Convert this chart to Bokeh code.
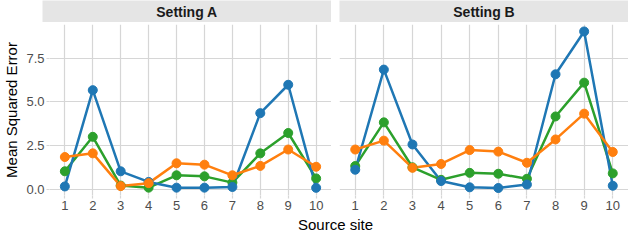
from bokeh.plotting import figure
from bokeh.layouts import column, row
from bokeh.models import Range1d, FixedTicker, Label, NumeralTickFormatter
from bokeh.embed import file_html
from bokeh.resources import INLINE

# ---- data ----
sites = [1, 2, 3, 4, 5, 6, 7, 8, 9, 10]
panels = ["Setting A", "Setting B"]

a_blue = [0.15, 5.68, 1.02, 0.41, 0.08, 0.08, 0.12, 4.36, 5.99, 0.07]
a_orange = [1.84, 2.05, 0.17, 0.34, 1.48, 1.40, 0.79, 1.33, 2.27, 1.28]
a_green = [1.02, 3.00, 0.20, 0.08, 0.79, 0.73, 0.37, 2.05, 3.22, 0.61]

b_blue = [1.11, 6.86, 2.56, 0.46, 0.10, 0.06, 0.26, 6.59, 9.05, 0.19]
b_orange = [2.27, 2.78, 1.22, 1.44, 2.24, 2.15, 1.51, 2.85, 4.33, 2.13]
b_green = [1.32, 3.83, 1.25, 0.53, 0.93, 0.88, 0.59, 4.17, 6.11, 0.90]

y_ticks = [0, 2.5, 5, 7.5]

# ---- style ----
FONT = "Liberation Sans"
GRID = "#d6d6d6"
STRIP = "#e5e5e5"
BLUE, ORANGE, GREEN = "#1f77b4", "#ff7f0e", "#2ca02c"

LEFT = 42
PW = 289
GAP = 8
STRIP_H = 22
TOP = 2
FRAME_H = 171
BOT = 21
TITLE_H = 16


def make_strip(text, border_left):
    s = figure(width=border_left + PW, height=STRIP_H,
               x_range=Range1d(0, 1), y_range=Range1d(0, 1),
               output_backend="svg", toolbar_location=None,
               x_axis_location=None, y_axis_location=None,
               min_border_left=border_left, min_border_right=0,
               min_border_top=0, min_border_bottom=0,
               background_fill_color=STRIP, border_fill_color="white")
    s.outline_line_color = None
    s.xgrid.visible = False
    s.ygrid.visible = False
    s.add_layout(Label(x=0.5, y=0.5, text=text, text_align="center",
                       text_baseline="middle", text_font=FONT,
                       text_font_size="14px", text_font_style="bold",
                       text_color="#1a1a1a"))
    return s


def make_panel(blue, orange, green, border_left, show_y):
    p = figure(width=border_left + PW, height=TOP + FRAME_H + BOT,
               x_range=Range1d(0.45, 10.55), y_range=Range1d(-0.37, 9.45),
               output_backend="svg", toolbar_location=None,
               y_axis_location="left" if show_y else None,
               min_border_left=border_left, min_border_right=0,
               min_border_top=TOP, min_border_bottom=BOT,
               background_fill_color="white", border_fill_color="white")
    p.outline_line_color = None
    p.xgrid.ticker = FixedTicker(ticks=sites)
    p.ygrid.ticker = FixedTicker(ticks=y_ticks)
    for g in (p.xgrid, p.ygrid):
        g.grid_line_color = GRID
        g.grid_line_width = 1.2
    p.xaxis.ticker = FixedTicker(ticks=sites)
    axes = list(p.xaxis)
    if show_y:
        p.yaxis.ticker = FixedTicker(ticks=y_ticks)
        p.yaxis.formatter = NumeralTickFormatter(format="0.0")
        p.yaxis.axis_label = "Mean Squared Error"
        p.yaxis.axis_label_text_font = FONT
        p.yaxis.axis_label_text_font_size = "15px"
        p.yaxis.axis_label_text_font_style = "normal"
        p.yaxis.axis_label_text_color = "#000000"
        p.yaxis.axis_label_standoff = 3
        axes += list(p.yaxis)
    for ax in axes:
        ax.axis_line_color = None
        ax.major_tick_line_color = GRID
        ax.major_tick_line_width = 1.2
        ax.major_tick_out = 3
        ax.major_tick_in = 0
        ax.minor_tick_line_color = None
        ax.major_label_text_font = FONT
        ax.major_label_text_font_size = "13px"
        ax.major_label_text_color = "#4d4d4d"
        ax.major_label_standoff = 2

    for ys, c in ((green, GREEN), (blue, BLUE), (orange, ORANGE)):
        p.line(sites, ys, line_color=c, line_width=2.5)
    for ys, c in ((green, GREEN), (blue, BLUE), (orange, ORANGE)):
        p.scatter(sites, ys, size=9, fill_color=c, line_color=c)
    return p


strip_a = make_strip(panels[0], LEFT)
strip_b = make_strip(panels[1], GAP)
pa = make_panel(a_blue, a_orange, a_green, LEFT, True)
pb = make_panel(b_blue, b_orange, b_green, GAP, False)

title_fig = figure(width=LEFT + PW + GAP + PW, height=TITLE_H,
                   x_range=Range1d(0, 1), y_range=Range1d(0, 1),
                   output_backend="svg", toolbar_location=None,
                   x_axis_location=None, y_axis_location=None,
                   min_border_left=LEFT, min_border_right=0,
                   min_border_top=0, min_border_bottom=0,
                   background_fill_color="white", border_fill_color="white")
title_fig.outline_line_color = None
title_fig.xgrid.visible = False
title_fig.ygrid.visible = False
title_fig.add_layout(Label(x=0.5, y=0.5, text="Source site", text_align="center",
                           text_baseline="middle", text_font=FONT,
                           text_font_size="15px", text_color="#000000"))

layout = column(row(strip_a, strip_b), row(pa, pb), title_fig, spacing=0)

open("out.html", "w").write(file_html(layout, INLINE))
